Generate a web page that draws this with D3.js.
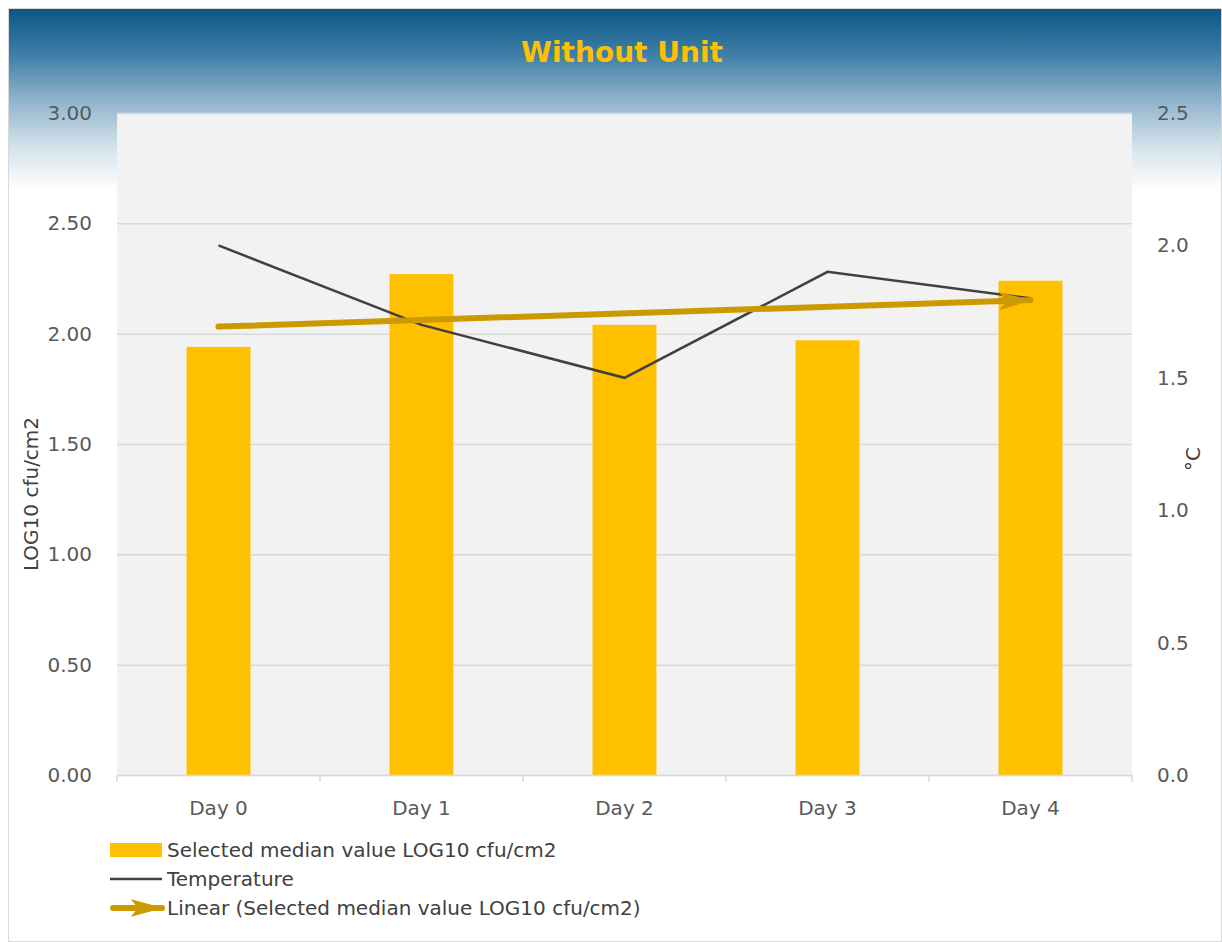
<!DOCTYPE html>
<html>
<head>
<meta charset="utf-8">
<script src="https://cdn.jsdelivr.net/npm/d3@7"></script>
<style>
  body { margin: 0; background: #fff; }
  text { font-family: "DejaVu Sans", sans-serif; }
</style>
</head>
<body>
<script>
// chart data
var days = ["Day 0", "Day 1", "Day 2", "Day 3", "Day 4"];
var medianLog = [1.94, 2.27, 2.04, 1.97, 2.24];
var temperature = [2.0, 1.7, 1.5, 1.9, 1.8];
var leftTicks = [0, 0.5, 1.0, 1.5, 2.0, 2.5, 3.0];
var rightTicks = [0, 0.5, 1.0, 1.5, 2.0, 2.5];

var width = 1222, height = 942;
var margin = {top: 113, right: 90, bottom: 167, left: 117};
var plotW = width - margin.left - margin.right;   // 1015
var plotH = height - margin.top - margin.bottom;  // 662
var fontSize = 20;

var svg = d3.select("body").append("svg")
    .attr("width", width)
    .attr("height", height);

var defs = svg.append("defs");
var grad = defs.append("linearGradient")
    .attr("id", "bg")
    .attr("x1", 0).attr("y1", 0).attr("x2", 0).attr("y2", 1);
grad.append("stop").attr("offset", "0%").attr("stop-color", "#0a5785");
grad.append("stop").attr("offset", "5%").attr("stop-color", "#3f7fa8");
grad.append("stop").attr("offset", "10%").attr("stop-color", "#92b5cd");
grad.append("stop").attr("offset", "15%").attr("stop-color", "#d6e3ec");
grad.append("stop").attr("offset", "19.5%").attr("stop-color", "#ffffff");
grad.append("stop").attr("offset", "100%").attr("stop-color", "#ffffff");

// arrow head for trend line
defs.append("marker")
    .attr("id", "arrow")
    .attr("viewBox", "0 0 11 6")
    .attr("refX", 10.5).attr("refY", 3)
    .attr("markerWidth", 5.5).attr("markerHeight", 3)
    .attr("markerUnits", "strokeWidth")
    .attr("orient", "auto")
  .append("path")
    .attr("d", "M0,0 L11,3 L0,6 L2.5,3 Z")
    .attr("fill", "#cc9a00");

// chart area background + border
svg.append("rect")
    .attr("x", 8.5).attr("y", 8.5)
    .attr("width", width - 9).attr("height", height - 9)
    .attr("fill", "url(#bg)")
    .attr("stroke", "#d9d9d9");

svg.append("text")
    .attr("x", 622).attr("y", 62)
    .attr("text-anchor", "middle")
    .attr("fill", "#ffc000")
    .attr("font-size", 28)
    .attr("font-weight", "bold")
    .text("Without Unit");

var g = svg.append("g")
    .attr("transform", "translate(" + margin.left + "," + margin.top + ")");

var x = d3.scaleBand().domain(days).range([0, plotW]).paddingInner(0.685).paddingOuter(0.3425);
var xBand = d3.scaleBand().domain(days).range([0, plotW]);
var yL = d3.scaleLinear().domain([0, 3]).range([plotH, 0]);
var yR = d3.scaleLinear().domain([0, 2.5]).range([plotH, 0]);

g.append("rect")
    .attr("width", plotW).attr("height", plotH)
    .attr("fill", "#f2f2f2");

// gridlines
g.append("g")
    .call(d3.axisLeft(yL).tickValues(leftTicks).tickSize(-plotW).tickFormat(""))
    .call(function(s) {
      s.select(".domain").remove();
      s.selectAll("line").attr("stroke", "#d9d9d9").attr("stroke-width", 1.5);
    });

// bars
g.selectAll(".bar")
    .data(medianLog)
    .enter().append("rect")
    .attr("class", "bar")
    .attr("x", function(d, i) { return x(days[i]); })
    .attr("y", function(d) { return yL(d); })
    .attr("width", x.bandwidth())
    .attr("height", function(d) { return plotH - yL(d); })
    .attr("fill", "#ffc000");

// x axis
g.append("g")
    .attr("transform", "translate(0," + plotH + ")")
    .call(d3.axisBottom(xBand).tickSize(0).tickPadding(26))
    .call(function(s) {
      s.select(".domain").attr("stroke", "#d9d9d9").attr("stroke-width", 1.5);
      s.selectAll("text").attr("fill", "#595959").attr("font-size", fontSize)
        .attr("font-family", "DejaVu Sans");
    });

// category boundary ticks
g.selectAll(".xtick")
    .data(d3.range(days.length + 1))
    .enter().append("line")
    .attr("x1", function(i) { return i * xBand.step(); })
    .attr("x2", function(i) { return i * xBand.step(); })
    .attr("y1", plotH).attr("y2", plotH + 7)
    .attr("stroke", "#d9d9d9").attr("stroke-width", 1.5);

// left axis
g.append("g")
    .call(d3.axisLeft(yL).tickValues(leftTicks).tickSize(0).tickPadding(25).tickFormat(d3.format(".2f")))
    .call(function(s) {
      s.select(".domain").remove();
      s.selectAll("text").attr("fill", "#595959").attr("font-size", fontSize)
        .attr("font-family", "DejaVu Sans");
    });

// right axis
g.append("g")
    .attr("transform", "translate(" + plotW + ",0)")
    .call(d3.axisRight(yR).tickValues(rightTicks).tickSize(0).tickPadding(25).tickFormat(d3.format(".1f")))
    .call(function(s) {
      s.select(".domain").remove();
      s.selectAll("text").attr("fill", "#595959").attr("font-size", fontSize)
        .attr("font-family", "DejaVu Sans");
    });

// temperature line
var cx = function(i) { return xBand(days[i]) + xBand.bandwidth() / 2; };
g.append("path")
    .datum(temperature)
    .attr("fill", "none")
    .attr("stroke", "#404040")
    .attr("stroke-width", 2.5)
    .attr("d", d3.line().x(function(d, i) { return cx(i); }).y(function(d) { return yR(d); }));

// linear trend of medians (least squares)
var n = medianLog.length;
var mx = d3.mean(d3.range(n)), my = d3.mean(medianLog);
var slope = d3.sum(medianLog, function(d, i) { return (i - mx) * (d - my); }) /
            d3.sum(d3.range(n), function(i) { return (i - mx) * (i - mx); });
var icpt = my - slope * mx;
var trend = [icpt, icpt + slope * (n - 1)];
g.append("path")
    .datum(trend)
    .attr("fill", "none")
    .attr("stroke", "#cc9a00")
    .attr("stroke-width", 6)
    .attr("stroke-linecap", "round")
    .attr("marker-end", "url(#arrow)")
    .attr("d", d3.line().x(function(d, i) { return cx(i * (n - 1)); }).y(function(d) { return yL(d); }));

// axis titles
svg.append("text")
    .attr("transform", "translate(38," + (margin.top + plotH / 2 + 50) + ") rotate(-90)")
    .attr("text-anchor", "middle")
    .attr("fill", "#404040")
    .attr("font-size", fontSize)
    .text("LOG10 cfu/cm2");

svg.append("text")
    .attr("transform", "translate(1200," + (margin.top + plotH / 2 + 15) + ") rotate(-90)")
    .attr("text-anchor", "middle")
    .attr("fill", "#404040")
    .attr("font-size", fontSize)
    .text("°C");

// legend
var legend = svg.append("g").attr("transform", "translate(110,850)");
legend.append("rect").attr("x", 0).attr("y", -7).attr("width", 52).attr("height", 14).attr("fill", "#ffc000");
legend.append("line").attr("x1", 0).attr("x2", 52).attr("y1", 29).attr("y2", 29)
    .attr("stroke", "#404040").attr("stroke-width", 2.5);
legend.append("line").attr("x1", 3).attr("x2", 52).attr("y1", 58).attr("y2", 58)
    .attr("stroke", "#cc9a00").attr("stroke-width", 6).attr("stroke-linecap", "round")
    .attr("marker-end", "url(#arrow)");
var legendLabels = ["Selected median value LOG10 cfu/cm2", "Temperature", "Linear (Selected median value LOG10 cfu/cm2)"];
legend.selectAll(".lt")
    .data(legendLabels)
    .enter().append("text")
    .attr("x", 57)
    .attr("y", function(d, i) { return i * 29 + 7; })
    .attr("fill", "#404040")
    .attr("font-size", fontSize)
    .text(function(d) { return d; });
</script>
</body>
</html>
